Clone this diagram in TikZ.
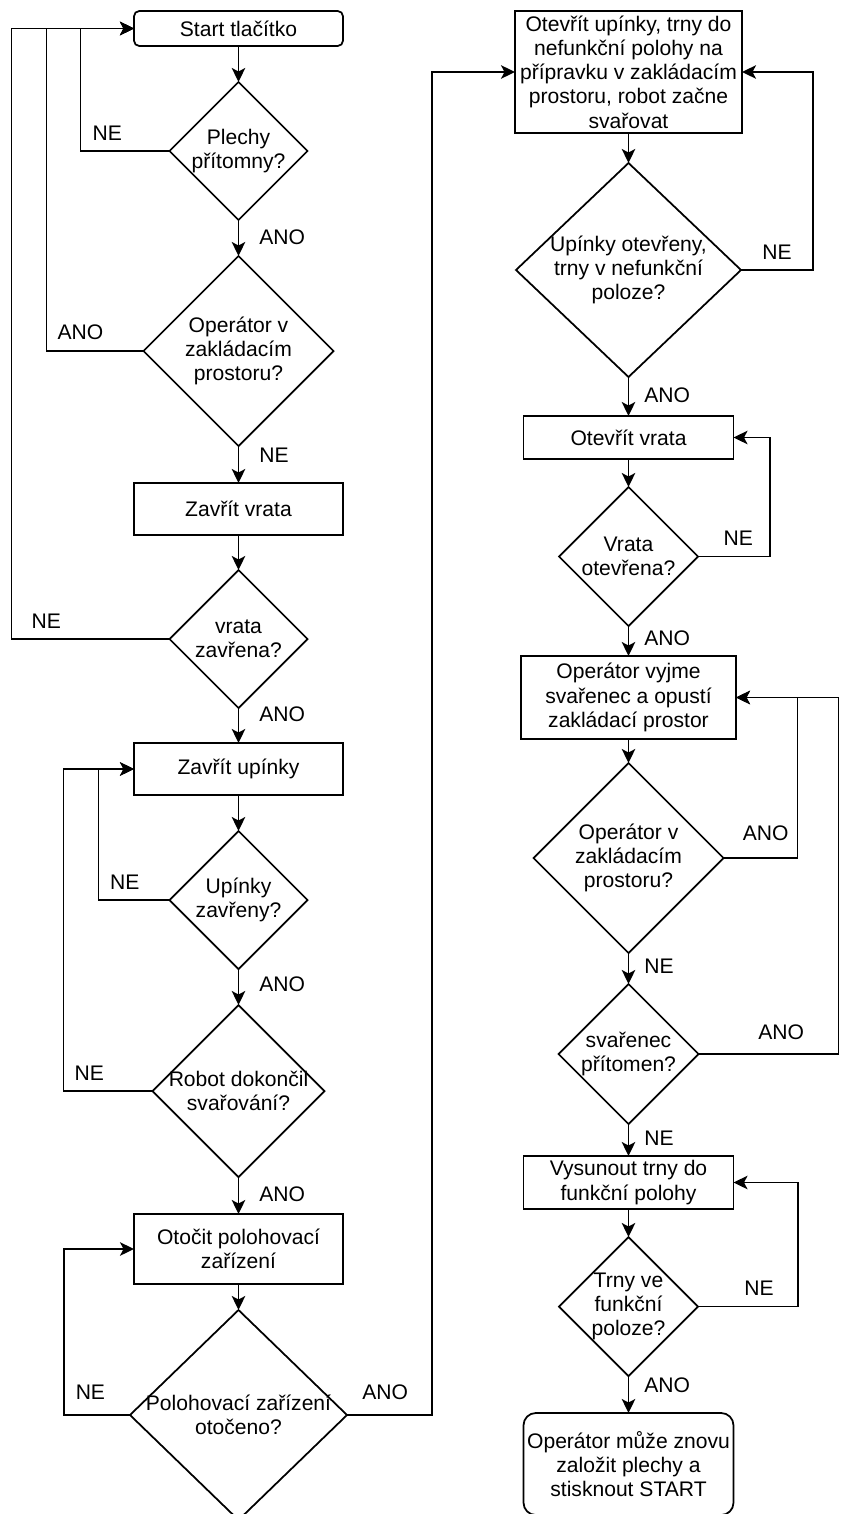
\documentclass[tikz,border=0pt]{standalone}
\usepackage{fontspec}
\setmainfont{Liberation Sans}
\usetikzlibrary{arrows.meta,positioning,shapes.geometric}

\begin{document}
\begin{tikzpicture}[
  node distance=0.72cm,
  line width=1pt,
  font=\fontsize{12}{13.8}\selectfont,
  terminal/.style={rectangle, draw, rounded corners=3pt, minimum width=4.18cm,
                   minimum height=0.7cm, align=center, inner sep=1pt, outer sep=0pt},
  process/.style={rectangle, draw, minimum width=4.18cm, minimum height=1.04cm,
                  align=center, inner sep=1pt, outer sep=0pt},
  decision/.style={diamond, draw, aspect=1, inner sep=-4pt, outer sep=0pt, align=center,
                   minimum width=#1, minimum height=#1},
  flow/.style={-{Stealth[length=2.8mm, width=2.7mm, inset=0.7mm]}},
  answer/.style={inner sep=0pt},
]
\useasboundingbox (0,0) rectangle (16.82,-30.28);

\node[terminal] (start) at (4.77,-0.57) {Start tlačítko};
\node[decision=2.76cm, below=of start] (plechy) {Plechy\\přítomny?};
\node[decision=3.8cm, below=of plechy] (operin) {Operátor v\\zakládacím\\prostoru?};
\node[process, below=0.74cm of operin] (zavrvrata) {Zavřít vrata};
\node[decision=2.76cm, below=0.7cm of zavrvrata] (vrataz) {vrata\\zavřena?};
\node[process, below=0.7cm of vrataz] (zavrupin) {Zavřít upínky};
\node[decision=2.76cm, below=of zavrupin] (upinz) {Upínky\\zavřeny?};
\node[decision=3.44cm, below=of upinz] (robot) {Robot dokončil\\svařování?};
\node[process, minimum height=1.4cm, below=0.74cm of robot] (otocit) {Otočit polohovací\\zařízení};
\node[decision=4.34cm, minimum height=4.2cm, below=0.52cm of otocit] (otoceno) {Polohovací zařízení\\otočeno?};

\node[process, minimum width=4.54cm, minimum height=2.44cm] (otevrit) at (12.57,-1.44)
  {Otevřít upínky, trny do\\nefunkční polohy na\\přípravku v zakládacím\\prostoru, robot začne\\svařovat};
\node[decision=4.5cm, minimum height=4.28cm, below=0.6cm of otevrit] (otevreno) {Upínky otevřeny,\\trny v nefunkční\\poloze?};
\node[process, minimum width=4.2cm, minimum height=0.86cm, below=0.78cm of otevreno] (otvrata) {Otevřít vrata};
\node[decision=2.78cm, below=0.56cm of otvrata] (vrataot) {Vrata\\otevřena?};
\node[process, minimum width=4.3cm, minimum height=1.66cm, below=0.6cm of vrataot] (vyjme) {Operátor vyjme\\svařenec a opustí\\zakládací prostor};
\node[decision=3.8cm, below=0.48cm of vyjme] (operin2) {Operátor v\\zakládacím\\prostoru?};
\node[decision=2.8cm, below=0.62cm of operin2] (svarenec) {svařenec\\přítomen?};
\node[process, minimum width=4.2cm, minimum height=1.06cm, below=0.64cm of svarenec] (vysunout) {Vysunout trny do\\funkční polohy};
\node[decision=2.78cm, below=0.56cm of vysunout] (trny) {Trny ve\\funkční\\poloze?};
\node[terminal, rounded corners=7pt, minimum width=4.2cm, minimum height=2.04cm, below=0.74cm of trny] (konec)
  {Operátor může znovu\\založit plechy a\\stisknout START};

\draw[flow] (start) -- (plechy);
\draw[flow] (plechy.west) -- node[answer, pos=0.7, above=0.2cm] {NE} ++(-1.78,0) |- (start.west);
\draw[flow] (plechy) -- node[answer, pos=0.47, right=0.4cm] {ANO} (operin);
\draw[flow] (operin.west) -- node[answer, pos=0.65, above=0.2cm] {ANO} ++(-1.94,0) |- (start.west);
\draw[flow] (operin) -- node[answer, pos=0.25, right=0.4cm] {NE} (zavrvrata);
\draw[flow] (zavrvrata) -- (vrataz);
\draw[flow] (vrataz.west) -- node[answer, pos=0.78, above=0.2cm] {NE} ++(-3.16,0) |- (start.west);
\draw[flow] (vrataz) -- node[answer, pos=0.17, right=0.4cm] {ANO} (zavrupin);
\draw[flow] (zavrupin) -- (upinz);
\draw[flow] (upinz.west) -- node[answer, pos=0.63, above=0.2cm] {NE} ++(-1.42,0) |- (zavrupin.west);
\draw[flow] (upinz) -- node[answer, pos=0.42, right=0.4cm] {ANO} (robot);
\draw[flow] (robot.west) -- node[answer, pos=0.71, above=0.2cm] {NE} ++(-1.78,0) |- (zavrupin.west);
\draw[flow] (robot) -- node[answer, pos=0.46, right=0.4cm] {ANO} (otocit);
\draw[flow] (otocit) -- (otoceno);
\draw[flow] (otoceno.west) -- node[answer, pos=0.6, above=0.29cm] {NE} ++(-1.32,0) |- (otocit.west);
\draw[flow] (otoceno.east) -- node[answer, pos=0.45, above=0.29cm] {ANO} ++(1.7,0) |- (otevrit.west);

\draw[flow] (otevrit) -- (otevreno);
\draw[flow] (otevreno.east) -- node[answer, pos=0.5, above=0.2cm] {NE} ++(1.44,0) |- (otevrit.east);
\draw[flow] (otevreno) -- node[answer, pos=0.46, right=0.3cm] {ANO} (otvrata);
\draw[flow] (otvrata) -- (vrataot);
\draw[flow] (vrataot.east) -- node[answer, pos=0.56, above=0.2cm] {NE} ++(1.44,0) |- (otvrata.east);
\draw[flow] (vrataot) -- node[answer, pos=0.4, right=0.3cm] {ANO} (vyjme);
\draw[flow] (vyjme) -- (operin2);
\draw[flow] (operin2.east) -- node[answer, pos=0.57, above=0.33cm] {ANO} ++(1.48,0) |- (vyjme.east);
\draw[flow] (operin2) -- node[answer, pos=0.42, right=0.3cm] {NE} (svarenec);
\draw[flow] (svarenec.east) -- node[answer, pos=0.59, above=0.27cm] {ANO} ++(2.8,0) |- (vyjme.east);
\draw[flow] (svarenec) -- node[answer, pos=0.44, right=0.3cm] {NE} (vysunout);
\draw[flow] (vysunout) -- (trny);
\draw[flow] (trny.east) -- node[answer, pos=0.61, above=0.2cm] {NE} ++(2,0) |- (vysunout.east);
\draw[flow] (trny) -- node[answer, pos=0.24, right=0.3cm] {ANO} (konec);

\end{tikzpicture}
\end{document}
